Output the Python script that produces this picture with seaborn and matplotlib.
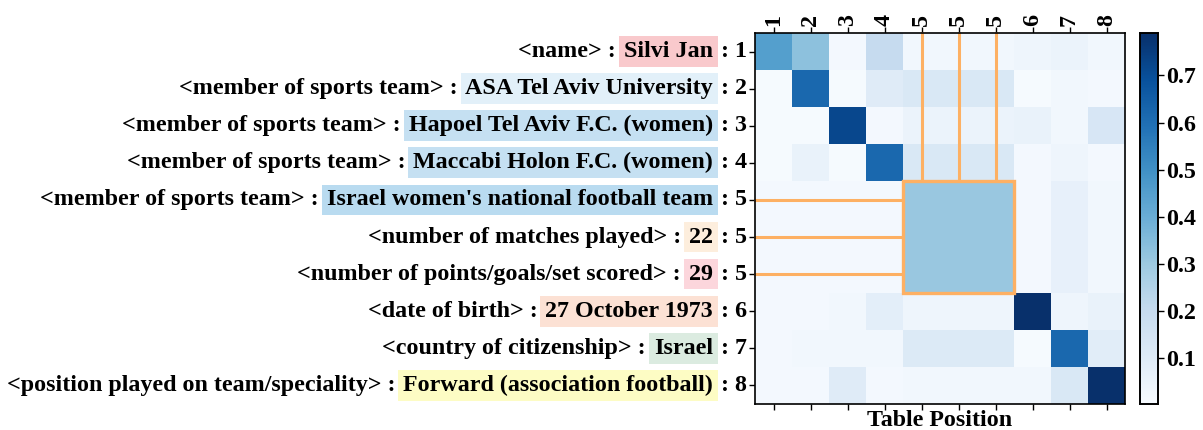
import numpy as np
import pandas as pd
import matplotlib
matplotlib.use("Agg")
import matplotlib.pyplot as plt
import seaborn as sns
from matplotlib.patches import Rectangle

# table positions (columns and rows of the attention map)
positions = ["1", "2", "3", "4", "5", "5", "5", "6", "7", "8"]

relations = [
    "<name>",
    "<member of sports team>",
    "<member of sports team>",
    "<member of sports team>",
    "<member of sports team>",
    "<number of matches played>",
    "<number of points/goals/set scored>",
    "<date of birth>",
    "<country of citizenship>",
    "<position played on team/speciality>",
]
values = [
    "Silvi Jan",
    "ASA Tel Aviv University",
    "Hapoel Tel Aviv F.C. (women)",
    "Maccabi Holon F.C. (women)",
    "Israel women's national football team",
    "22",
    "29",
    "27 October 1973",
    "Israel",
    "Forward (association football)",
]
highlight = [
    "#f9c9cc", "#e2f0f9", "#c5e0f2", "#c5e0f2", "#b9dbf0",
    "#fdeedd", "#fcd6dc", "#fce1d4", "#dbebe0", "#fdfcc4",
]

scores = [
    [0.45, 0.33, 0.02, 0.20, 0.03, 0.03, 0.03, 0.04, 0.05, 0.03],
    [0.01, 0.62, 0.01, 0.10, 0.12, 0.12, 0.12, 0.01, 0.03, 0.02],
    [0.01, 0.01, 0.72, 0.02, 0.05, 0.05, 0.05, 0.06, 0.03, 0.13],
    [0.01, 0.06, 0.01, 0.62, 0.12, 0.12, 0.12, 0.02, 0.04, 0.02],
    [0.02, 0.02, 0.02, 0.02, 0.31, 0.31, 0.31, 0.02, 0.07, 0.03],
    [0.02, 0.02, 0.02, 0.02, 0.31, 0.31, 0.31, 0.02, 0.07, 0.03],
    [0.02, 0.02, 0.02, 0.02, 0.31, 0.31, 0.31, 0.02, 0.07, 0.03],
    [0.02, 0.02, 0.03, 0.08, 0.04, 0.04, 0.04, 0.79, 0.04, 0.06],
    [0.02, 0.03, 0.03, 0.03, 0.11, 0.11, 0.11, 0.01, 0.62, 0.09],
    [0.02, 0.02, 0.10, 0.02, 0.03, 0.03, 0.03, 0.03, 0.12, 0.79],
]

sns.set_theme(style="white")
plt.rcParams['font.family'] = ['Liberation Serif', 'DejaVu Serif']
plt.rcParams['font.weight'] = 'bold'
plt.rcParams['text.color'] = 'black'
plt.rcParams['axes.labelcolor'] = 'black'
plt.rcParams['xtick.color'] = 'black'
plt.rcParams['ytick.color'] = 'black'

df = pd.DataFrame(scores, index=range(len(positions)), columns=range(len(positions)))

fig = plt.figure(figsize=(12.03, 4.30), dpi=100)
ax = fig.add_axes([0.6276, 0.0605, 0.3076, 0.8628])
cax = fig.add_axes([0.9476, 0.0605, 0.015, 0.8628])

sns.heatmap(df, ax=ax, cmap="Blues", cbar_ax=cax, vmin=0.003, vmax=0.79)

fs = 17.3
ax.set_xticks(np.arange(len(positions)) + 0.5)
ax.set_xticklabels(positions, rotation=90, fontsize=fs, fontweight='bold')
ax.set_yticks(np.arange(len(positions)) + 0.5)
ax.set_yticklabels([": " + p for p in positions], rotation=0, fontsize=fs, fontweight='bold')
ax.tick_params(axis='x', top=True, bottom=True, labeltop=True, labelbottom=False,
               length=4, width=1, color='black', direction='out', pad=1)
ax.tick_params(axis='y', left=True, length=4, width=1, color='black', direction='out', pad=2)
ax.set_xlabel("Table Position", fontsize=fs, fontweight='bold', labelpad=0)
ax.set_ylabel("")
for s in ax.spines.values():
    s.set_visible(True)
    s.set_color('black')
    s.set_linewidth(1.2)

cax.set_yticks([0.1, 0.2, 0.3, 0.4, 0.5, 0.6, 0.7])
cax.tick_params(labelsize=fs, length=4, width=1, color='black', right=True, pad=2)
for lab in cax.get_yticklabels():
    lab.set_fontweight('bold')
for s in cax.spines.values():
    s.set_visible(True)
    s.set_color('black')
    s.set_linewidth(1.2)

# highlighted values and relation names left of the y tick labels
for i, (rel, val, col) in enumerate(zip(relations, values, highlight)):
    v = ax.annotate(val, xy=(0, i + 0.5), xycoords=('axes fraction', 'data'),
                    xytext=(-42, 0), textcoords='offset pixels', ha='right', va='center',
                    fontsize=fs, fontweight='bold', annotation_clip=False,
                    bbox=dict(boxstyle='square,pad=0.2', fc=col, ec='none'))
    ax.annotate(rel + " :", xy=(0, 0.5), xycoords=v, xytext=(-8, 0),
                textcoords='offset pixels', ha='right', va='center',
                fontsize=fs, fontweight='bold', annotation_clip=False)

# orange guides linking the repeated position "5"
dup = [i for i, p in enumerate(positions) if p == "5"]
lo, hi = dup[0], dup[-1] + 1
orange = "#fdb063"
for d in dup:
    ax.plot([d + 0.5, d + 0.5], [0, lo], color=orange, lw=2.2, clip_on=False)
    ax.plot([0, lo], [d + 0.5, d + 0.5], color=orange, lw=2.2, clip_on=False)
ax.add_patch(Rectangle((lo, lo), hi - lo, hi - lo, fill=False, ec=orange, lw=2.4))

fig.savefig("out.png", dpi=100)
